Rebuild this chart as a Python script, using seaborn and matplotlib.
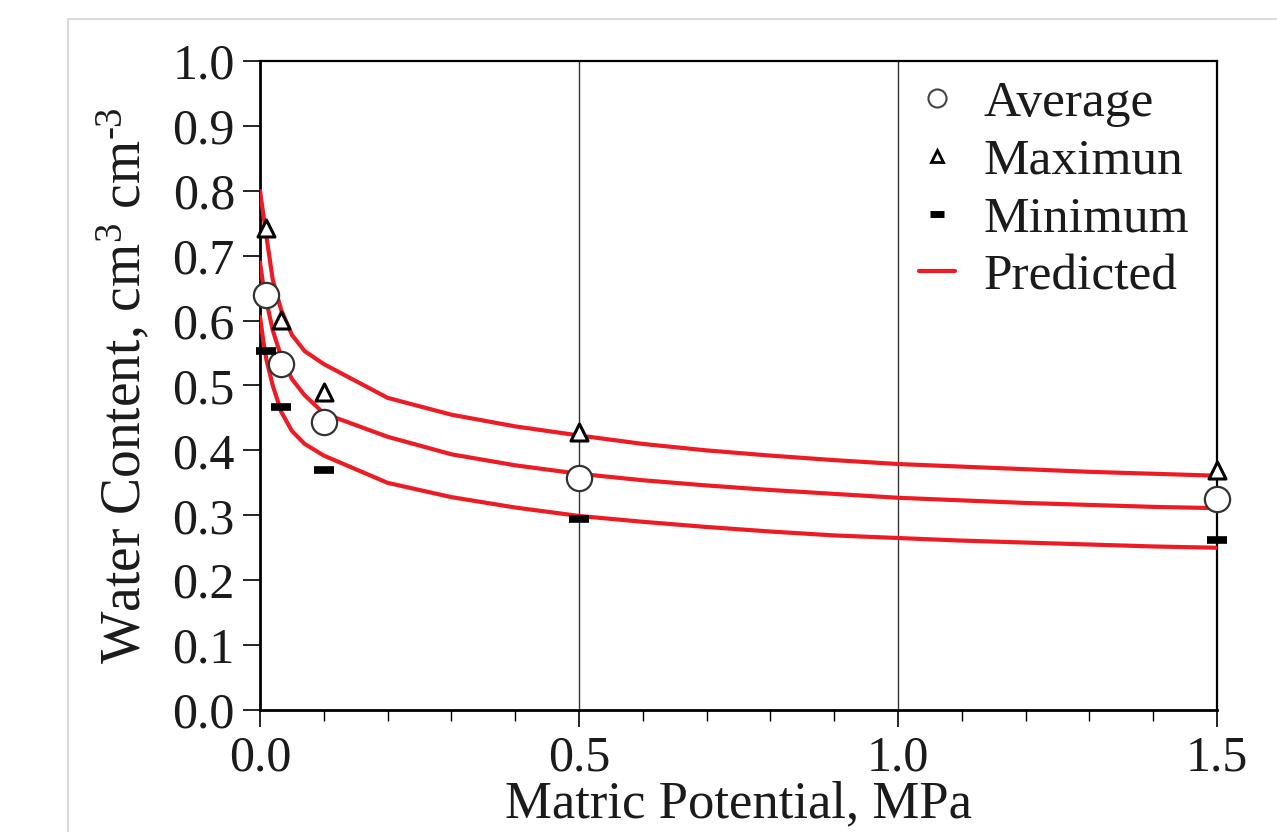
import numpy as np
import pandas as pd
import matplotlib
matplotlib.use("Agg")
import matplotlib.pyplot as plt
import seaborn as sns
from matplotlib.lines import Line2D
from matplotlib.patches import Rectangle
from matplotlib.ticker import MultipleLocator, FormatStrFormatter

# --- observed data (MPa, cm3 cm-3) ---
obs_x = [0.01, 0.033, 0.1, 0.5, 1.5]
avg_y = [0.639, 0.533, 0.444, 0.357, 0.325]
max_y = [0.743, 0.601, 0.490, 0.428, 0.370]
min_y = [0.553, 0.467, 0.370, 0.294, 0.262]

# --- predicted curves ---
pred_x = [0, 0.005, 0.01, 0.02, 0.033, 0.05, 0.07, 0.1, 0.2, 0.3, 0.4, 0.5,
          0.6, 0.7, 0.8, 0.9, 1.0, 1.1, 1.2, 1.3, 1.4, 1.5]
pred_max = [0.800, 0.765, 0.730, 0.663, 0.617, 0.578, 0.553, 0.533, 0.481, 0.455,
            0.437, 0.423, 0.410, 0.400, 0.392, 0.385, 0.379, 0.375, 0.371, 0.367,
            0.364, 0.361]
pred_avg = [0.690, 0.655, 0.630, 0.585, 0.545, 0.510, 0.485, 0.457, 0.421, 0.394,
            0.377, 0.364, 0.354, 0.346, 0.339, 0.333, 0.327, 0.323, 0.319, 0.316,
            0.313, 0.311]
pred_min = [0.606, 0.570, 0.540, 0.500, 0.460, 0.430, 0.410, 0.392, 0.350, 0.328,
            0.312, 0.299, 0.290, 0.282, 0.275, 0.269, 0.265, 0.261, 0.258, 0.255,
            0.252, 0.250]

legend_labels = ["Average", "Maximun", "Minimum", "Predicted"]

sns.set_style("ticks")
serif = ["Liberation Serif", "DejaVu Serif"]
TXT = "#1c1a1b"
plt.rcParams["font.family"] = serif
plt.rcParams["mathtext.fontset"] = "custom"
plt.rcParams["mathtext.rm"] = "Liberation Serif"
plt.rcParams["mathtext.it"] = "Liberation Serif:italic"
plt.rcParams["text.color"] = TXT
plt.rcParams["axes.labelcolor"] = TXT
plt.rcParams["xtick.color"] = TXT
plt.rcParams["ytick.color"] = TXT

RED = "#ED1C24"

fig = plt.figure(figsize=(12.77, 8.32), dpi=100)
ax = fig.add_axes([260 / 1277, 1 - 710 / 832, (1217 - 260) / 1277, (710 - 61) / 832])

# light grey frame of the original page
fig.patches.append(Rectangle((68 / 1277, -0.5), 2.0, 0.5 + (1 - 19 / 832),
                             transform=fig.transFigure, fill=False,
                             edgecolor="#d4d4d4", linewidth=1.2, zorder=0))

# vertical grid lines at major x ticks
for xv in [0.5, 1.0]:
    ax.axvline(xv, color="#333333", linewidth=1.0, zorder=1)

pred_df = pd.DataFrame({"x": pred_x * 3,
                        "y": pred_max + pred_avg + pred_min,
                        "curve": ["max"] * len(pred_x) + ["avg"] * len(pred_x) + ["min"] * len(pred_x)})
sns.lineplot(data=pred_df, x="x", y="y", units="curve", estimator=None,
             color=RED, linewidth=3.0, ax=ax, zorder=3, sort=False)

sns.scatterplot(x=obs_x, y=max_y, ax=ax, marker="^", s=150, facecolor="white",
                edgecolor="black", linewidth=2.2, zorder=5, clip_on=False)
sns.scatterplot(x=obs_x, y=avg_y, ax=ax, marker="o", s=330, facecolor="white",
                edgecolor="#333333", linewidth=1.6, zorder=5, clip_on=False)
ax.plot(obs_x, min_y, linestyle="none", marker="_", markersize=15,
        markeredgewidth=5.5, color="black", zorder=5, clip_on=False)

ax.set_xlim(0, 1.5)
ax.set_ylim(0, 1.0)
ax.xaxis.set_major_locator(MultipleLocator(0.5))
ax.xaxis.set_minor_locator(MultipleLocator(0.1))
ax.yaxis.set_major_locator(MultipleLocator(0.1))
ax.xaxis.set_major_formatter(FormatStrFormatter("%.1f"))
ax.yaxis.set_major_formatter(FormatStrFormatter("%.1f"))

ax.tick_params(axis="both", which="major", labelsize=36, length=12, width=1.2,
               color="black", direction="out", pad=6)
ax.tick_params(axis="x", which="minor", length=8, width=1.0, direction="out",
               color="black")

for s in ["left", "bottom"]:
    ax.spines[s].set_linewidth(2.0)
    ax.spines[s].set_color("black")
for s in ["top", "right"]:
    ax.spines[s].set_visible(True)
    ax.spines[s].set_linewidth(1.6)
    ax.spines[s].set_color("black")

ax.set_xlabel("Matric Potential, MPa", fontsize=38, labelpad=-1)
ax.set_ylabel("Water Content, cm$^{3}$ cm$^{\u2010 3}$", fontsize=40, labelpad=14)

handles = [
    Line2D([], [], linestyle="none", marker="o", markersize=13, markerfacecolor="white",
           markeredgecolor="#444444", markeredgewidth=1.5),
    Line2D([], [], linestyle="none", marker="^", markersize=9, markerfacecolor="white",
           markeredgecolor="black", markeredgewidth=2.0),
    Line2D([], [], linestyle="none", marker="_", markersize=10, markeredgewidth=5,
           color="black"),
    Line2D([], [], color=RED, linewidth=3.0),
]
ax.legend(handles, legend_labels, loc="upper left", bbox_to_anchor=(0.662, 1.01),
          frameon=False, fontsize=37, handlelength=0.7, handletextpad=0.55,
          labelspacing=0.21, borderaxespad=0.1)

fig.savefig("out.png", dpi=100)
